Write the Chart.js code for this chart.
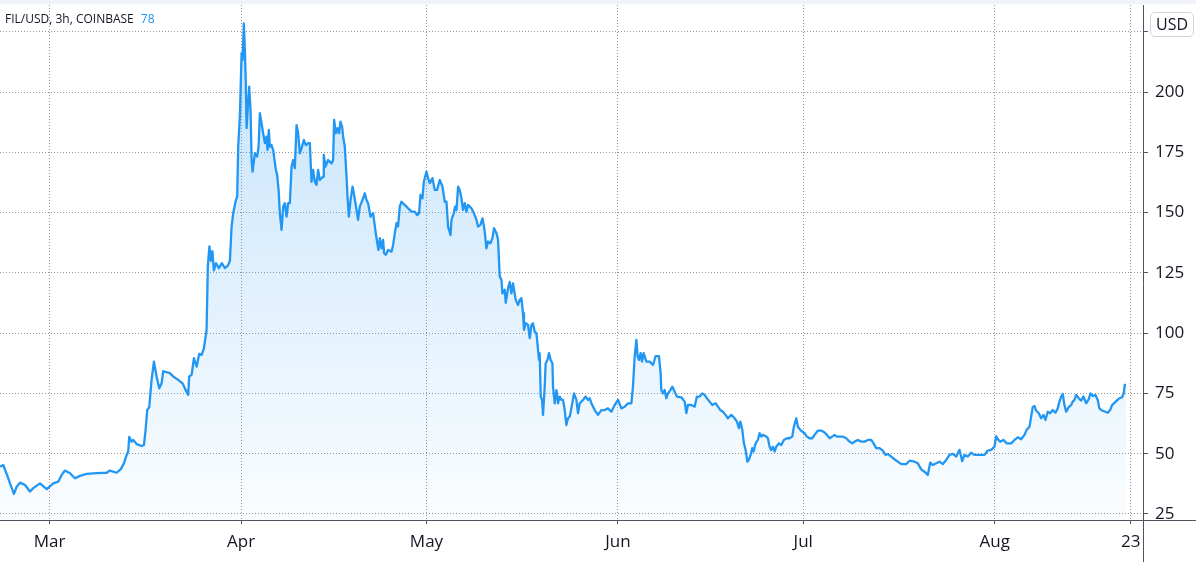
<!DOCTYPE html>
<html><head><meta charset="utf-8">
<script src="https://cdn.jsdelivr.net/npm/chart.js@4.4.0/dist/chart.umd.min.js"></script>
<style>
html,body{margin:0;padding:0;background:#fff;}
#wrap{position:relative;width:1196px;height:562px;overflow:hidden;}
#title{position:absolute;left:5px;top:10px;font:12px "Open Sans",sans-serif;color:#131722;white-space:nowrap;}
#title .v{color:#2196F3;margin-left:7px;}
#usd{position:absolute;left:1150px;top:12px;width:44px;height:25px;box-sizing:border-box;border:1px solid #d1d4dc;border-radius:5px;background:#fff;font:16px "Open Sans",sans-serif;color:#131722;text-align:center;line-height:23px;}
</style></head>
<body><div id="wrap"><canvas id="c" width="1196" height="562"></canvas><div id="title">FIL/USD, 3h, COINBASE<span class="v">78</span></div><div id="usd">USD</div></div>
<script>
// day-of-year (2021, Jan 1 = 0) of each sampled point
const days = [50.96,51.49,52.30,52.58,53.21,53.66,54.20,55.01,55.81,56.35,57.43,58.52,59.58,60.39,60.94,61.48,62.29,63.10,63.90,64.99,66.61,68.22,68.76,69.84,70.49,71.02,71.46,71.72,71.88,72.27,72.53,73.08,73.89,74.26,74.53,74.79,75.12,75.50,75.88,76.31,76.74,77.12,77.38,78.47,79.00,79.81,80.52,80.89,81.43,81.59,81.98,82.35,82.79,83.21,83.60,83.97,84.40,84.61,84.86,85.10,85.34,85.59,85.91,86.40,86.88,87.37,87.85,88.18,88.45,
88.71,89.15,89.36,89.52,89.79,90.07,90.23,90.44,90.60,90.76,90.88,91.09,91.30,91.52,91.69,91.85,92.22,92.59,92.82,93.03,93.30,93.56,93.84,94.11,94.27,94.48,94.65,94.92,95.18,95.62,95.83,96.06,96.27,96.54,96.80,97.07,97.35,97.61,97.88,98.16,98.42,98.69,98.97,99.23,99.50,99.78,100.15,100.47,100.85,101.12,101.39,101.65,101.93,102.20,102.46,102.74,103.27,103.38,103.66,104.08,104.63,104.89,105.05,105.33,105.60,105.86,106.08,106.35,106.51,106.78,107.06,107.22,107.43,107.71,108.03,108.24,108.51,108.93,109.21,109.64,110.02,110.29,110.55,110.94,111.36,111.80,112.17,
112.23,112.45,112.72,112.98,113.14,113.42,113.79,114.34,114.60,114.87,115.15,115.40,115.68,115.95,116.49,117.02,117.57,118.11,118.48,118.80,119.03,119.35,119.57,120.00,120.26,120.54,120.97,121.35,121.72,122.15,122.59,122.96,123.24,123.50,123.89,124.05,124.42,124.63,124.86,125.12,125.39,125.66,125.92,126.20,126.47,126.73,127.28,127.70,128.09,128.35,128.74,129.06,129.27,129.43,129.71,129.97,130.36,130.68,130.94,131.33,131.59,131.86,132.14,132.30,132.67,132.83,133.21,133.48,133.75,134.01,134.45,134.82,135.10,135.37,135.63,135.79,136.07,136.44,136.72,136.99,137.25,137.52,137.80,138.22,138.33,138.50,138.71,138.87,139.14,139.30,139.58,139.84,140.11,140.39,140.49,140.76,141.04,141.30,141.57,141.85,142.11,142.38,142.65,142.91,143.19,143.46,143.88,144.27,144.53,144.81,145.34,145.78,146.15,146.42,146.70,147.23,147.77,148.32,148.85,149.39,149.94,150.47,151.01,151.55,152.09,152.62,153.17,153.43,153.71,153.98,154.19,154.40,154.68,154.89,155.16,155.60,156.13,156.67,157.10,157.64,157.91,158.02,158.29,158.56,158.83,159.09,159.48,159.80,160.18,160.55,161.26,161.80,162.07,162.33,162.88,163.41,163.79,164.22,164.66,165.03,165.40,165.84,166.28,166.81,167.19,167.57,168.00,168.43,168.80,169.35,169.89,170.26,170.58,170.81,171.13,171.39,171.67,171.94,172.20,172.48,172.75,172.96,173.28,173.65,173.93,174.20,174.47,175.01,175.28,175.55,175.82,176.08,176.36,176.63,177.05,177.44,177.86,178.35,178.78,179.22,179.48,179.87,180.13,180.52,180.84,181.21,181.58,182.02,182.46,182.83,183.37,183.91,184.45,184.82,185.26,185.70,186.07,186.44,186.88,187.41,187.96,188.49,188.93,189.30,189.84,190.39,190.92,191.46,192.00,192.38,192.81,193.35,193.88,194.32,194.69,195.24,195.77,196.31,196.86,197.67,198.21,199.01,199.55,200.09,200.63,201.16,201.55,201.98,202.53,203.06,203.60,204.14,204.67,205.21,205.76,206.29,206.73,207.10,207.64,208.18,208.72,209.53,210.34,210.87,211.42,211.96,212.23,212.49,212.88,213.42,213.95,214.66,215.19,215.73,216.27,216.81,217.18,217.62,217.89,218.15,218.43,218.70,219.13,219.51,219.89,220.21,220.58,220.97,221.39,221.83,222.20,222.47,222.75,223.01,223.28,223.56,223.98,224.37,224.63,224.90,225.18,225.60,225.99,226.36,226.80,227.22,227.49,227.86,228.30,228.67,228.94,229.38,229.91,230.29,230.68,231.00,231.37,231.75,232.18,232.62,232.88,233.04,233.26];
// FIL/USD close price
const prices = [44.6,45.3,39.8,37.7,33.3,36.3,38,37,34.3,35.7,37.7,35.3,37.7,38.4,41.2,43,41.9,39.8,40.8,41.6,41.9,42.1,43,42.1,43.5,46,49.5,50.9,57,55,55.7,54,53.2,53.6,59.8,68.1,69.3,80.6,88.2,82,77.1,79.2,84.2,83.4,82,80.6,79.2,77.1,74.4,82,82.7,89.6,86.1,91.4,91,93.7,101.3,128,136,130,134,126,129,127,129,127,128,130,144.2,
149.7,155.2,156.6,177.3,189.8,216.1,213.3,228.5,217.4,203.6,185,193.9,202.2,192.6,171.8,167,174.6,173.2,177.3,191.2,187.1,182.9,178.8,181.5,176,184.3,177.3,178,176,167.7,165.6,159.4,149.7,142.8,152.5,153.9,148.3,153.9,153.9,169.1,171.8,168.4,186.3,182.9,174.6,176.7,180.1,178,178.8,178.8,162.8,167.7,162.8,161.5,167.7,163.5,164.9,173.9,169.1,171.8,170.4,171.8,188.4,182.9,185,182.9,187.7,185.6,181.5,177.3,164.9,156.6,148.3,155.2,160.8,158,153.9,147,152.5,155.2,158,155.2,153.9,148.3,149.7,141.4,135.2,
134.5,139.4,135.2,138.7,133.2,132.5,134.5,133.8,136.6,141.4,145.6,144.2,152.5,154.5,153.2,151.8,150.4,150.4,149,149.7,157.3,155.9,162.8,167,164.3,162.2,164.3,159.4,159.4,163.5,160.8,154.5,154.5,144.2,140.7,147,149.7,152.5,151.1,160.8,159.4,156,151.1,153.9,150.4,153.2,151.8,149.7,147,144.2,144.9,147.6,144.9,142.1,135.2,138,137.3,139.4,143.5,141.4,138.7,123.5,122.1,116.5,118,112.6,118.6,121.2,116.5,120.6,113.8,111.7,113.8,114.5,108.3,101.3,104.1,103.4,97.9,103.4,104.1,100.6,100,88.9,91.7,73.7,72.3,66.1,77.8,87.5,88.9,91.7,88.9,87.5,77.8,70.9,76.4,70.9,73.7,72.3,72.3,68.1,61.9,64.7,65.4,68.8,75,72.3,66.8,70.9,72.3,73.7,72.3,73,70.9,68.1,66.1,68.1,68.1,68.8,67.4,70.2,72.3,68.8,69.5,70.9,70.9,77.8,90.3,97.2,90.3,88.9,91.7,88.2,91.7,88.2,88.2,86.8,90.5,90.5,83.4,76.4,75,76.4,73,75,76.4,77.8,75.7,73.7,73.4,71.6,66.8,70.2,70.2,69.5,73.7,73.7,75,74.4,73,71.6,70.2,70.9,69.5,68.1,67.4,66.1,64.7,66.1,64.7,63.3,60.6,63.3,59.9,54.3,51.6,46.7,47.4,49.5,52.3,50.9,54.3,55.7,58.5,57.1,57.8,57.1,56.4,52.9,51.5,52.9,50.9,52.9,54.3,53.6,55.7,56.4,56.4,57.1,61.2,64.7,61.2,59.9,59.2,58.5,57.1,56.4,56.4,57.8,59.6,59.6,58.8,57.8,56.4,57.1,57.8,57.1,57.1,57.1,56.4,55,54.3,55,55.7,55,55,55.7,55.7,54.3,52.3,52.3,51.3,49.5,49.9,48.8,47.7,46.7,45.7,45.7,47.1,46.7,46,43.5,42.5,41.2,46.3,45.3,46,46.7,45.7,47.4,49.5,49.9,48.8,51.6,46.9,49.5,48.8,50.4,49.5,49.5,49.5,51.3,51.6,52.9,57.3,56,55,55.7,54.3,54.3,55.7,56.8,56,57.8,59.9,61.2,65.4,69.3,69.8,67.9,66.8,64.7,66.1,64,67.4,66.8,68.1,67,68.8,71.6,73.7,74.8,70.2,67.4,69.3,70.2,71.6,72.3,74.4,73,72,73.7,70.9,72.6,75,73.9,74.4,72.3,68.8,67.9,67.4,67,68.1,70.2,71.1,72,73,73.4,75,78.5,78.5];

const monthTickDays = [59, 90, 120, 151, 181, 212, 234];
const monthTickLabels = ['Mar', 'Apr', 'May', 'Jun', 'Jul', 'Aug', '23'];
const priceTicks = [25, 50, 75, 100, 125, 150, 175, 200, 225];
const xRange = [50.96, 236.0];
const yRange = [22.5, 236.1];

const AXIS = '#50535e';
const GRID = '#9598a1';
const TXT = '#131722';
const FONT = '"Open Sans", sans-serif';

const framePlugin = {
  id: 'frame',
  beforeDraw(chart) {
    const ctx = chart.ctx, a = chart.chartArea;
    ctx.save();
    ctx.fillStyle = '#ffffff';
    ctx.fillRect(0, 0, chart.width, chart.height);
    ctx.fillStyle = '#f0f3fa';
    ctx.fillRect(0, 0, chart.width, a.top - 1);
    ctx.restore();
  },
  afterDraw(chart) {
    const ctx = chart.ctx, a = chart.chartArea;
    const yb = Math.round(a.bottom) + 0.5, xr = Math.round(a.right) + 0.5;
    ctx.save();
    ctx.strokeStyle = AXIS;
    ctx.lineWidth = 1;
    ctx.beginPath();
    ctx.moveTo(0, yb); ctx.lineTo(chart.width, yb);
    ctx.moveTo(xr, a.top); ctx.lineTo(xr, chart.height);
    ctx.stroke();
    ctx.restore();
  }
};

const ctx = document.getElementById('c').getContext('2d');
new Chart(ctx, {
  type: 'line',
  data: {
    datasets: [{
      data: days.map((d, i) => ({ x: d, y: prices[i] })),
      borderColor: '#2196F3',
      borderWidth: 2.3,
      borderJoinStyle: 'round',
      pointRadius: 0,
      tension: 0,
      fill: 'start',
      backgroundColor: (c) => {
        const a = c.chart.chartArea;
        if (!a) return 'rgba(33,150,243,0.15)';
        const g = c.chart.ctx.createLinearGradient(0, a.top, 0, a.bottom);
        g.addColorStop(0, 'rgba(33,150,243,0.28)');
        g.addColorStop(1, 'rgba(33,150,243,0.02)');
        return g;
      }
    }]
  },
  options: {
    responsive: false,
    animation: false,
    devicePixelRatio: 1,
    layout: { padding: { top: 5, left: 0, right: 0, bottom: 0 } },
    plugins: { legend: { display: false }, tooltip: { enabled: false } },
    scales: {
      x: {
        type: 'linear',
        min: xRange[0], max: xRange[1],
        afterBuildTicks: (s) => { s.ticks = monthTickDays.map(v => ({ value: v })); },
        afterFit: (s) => { s.height = 42; s.paddingLeft = 0; s.paddingRight = 0; },
        ticks: {
          autoSkip: false, maxRotation: 0, padding: 8,
          color: TXT, font: { family: FONT, size: 17 },
          callback: (v) => { const i = monthTickDays.indexOf(v); return i >= 0 ? monthTickLabels[i] : ''; }
        },
        grid: { color: GRID, lineWidth: 1, tickLength: 4, tickColor: AXIS, tickWidth: 1 },
        border: { display: false, dash: [1, 2] }
      },
      y: {
        type: 'linear',
        position: 'right',
        min: yRange[0], max: yRange[1],
        afterBuildTicks: (s) => { s.ticks = priceTicks.map(v => ({ value: v })); },
        afterFit: (s) => { s.width = 53; s.paddingTop = 0; s.paddingBottom = 0; },
        ticks: {
          padding: 7, color: TXT, font: { family: FONT, size: 17 },
          callback: (v) => String(v)
        },
        grid: { color: GRID, lineWidth: 1, tickLength: 5, tickColor: AXIS, tickWidth: 1 },
        border: { display: false, dash: [1, 2] }
      }
    }
  },
  plugins: [framePlugin]
});
</script>
</body></html>
